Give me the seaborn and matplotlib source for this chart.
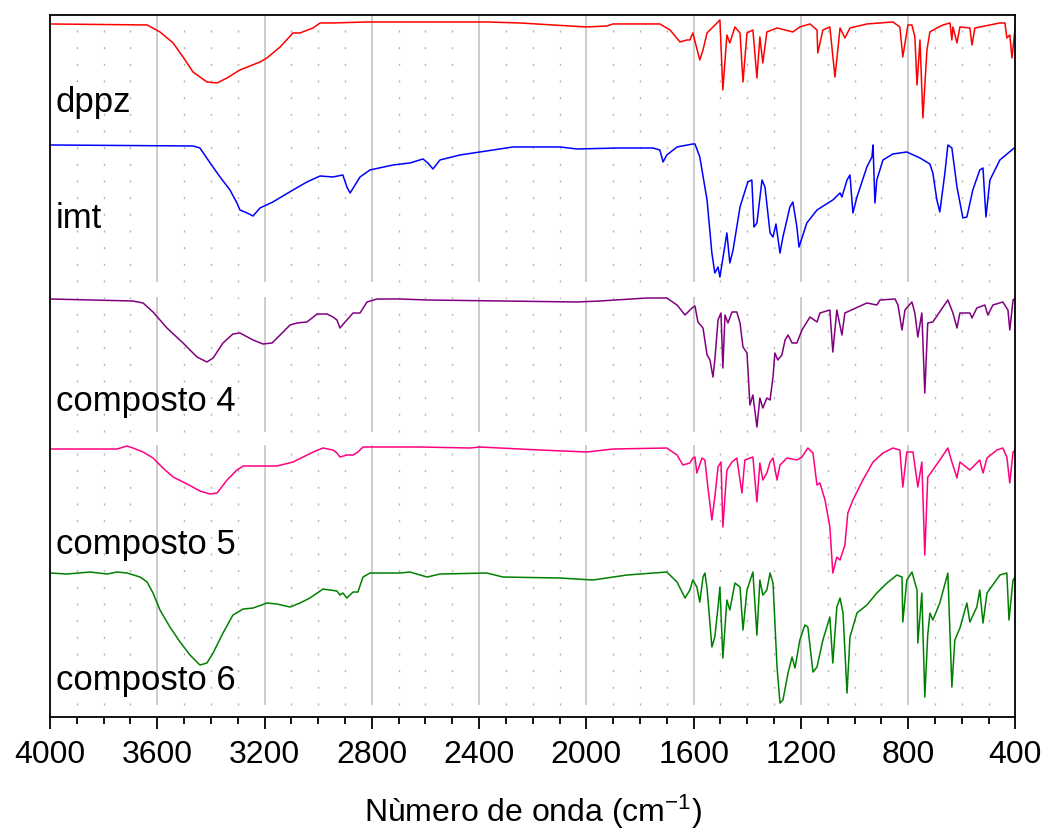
import numpy as np
import pandas as pd
import matplotlib
matplotlib.use("Agg")
import matplotlib.pyplot as plt
import seaborn as sns

# numero de onda (cm-1) e sinal (u.a.)
dppz_wn = [4000, 3638, 3590, 3541, 3504, 3467, 3415, 3377, 3340, 3292, 3217, 3191, 3142, 3094, 3068,
           3019, 2993, 2945, 2818, 2721, 2371, 2248, 2125, 1998, 1923, 1901, 1726, 1688, 1651, 1625,
           1614, 1603, 1577, 1565, 1550, 1509, 1502, 1491, 1476, 1465, 1446, 1427, 1416, 1401, 1379,
           1364, 1353, 1342, 1327, 1289, 1230, 1204, 1166, 1140, 1137, 1118, 1092, 1073, 1054, 1036,
           1017, 954, 857, 831, 820, 801, 786, 775, 767, 756, 745, 730, 719, 693, 670,
           644, 637, 633, 618, 607, 570, 562, 551, 458, 439, 432, 421, 413, 400]
dppz_t = [693, 692, 685, 674, 660, 645, 635, 634, 639, 647, 655, 659, 670, 684, 684,
          689, 694, 694, 695, 695, 695, 694, 692, 690, 691, 693, 693, 687, 675, 677,
          677, 684, 657, 667, 684, 695, 697, 627, 682, 674, 690, 684, 635, 684, 687,
          639, 680, 654, 685, 689, 685, 690, 693, 687, 664, 687, 690, 640, 689, 679,
          689, 693, 695, 690, 660, 692, 692, 680, 632, 677, 599, 667, 685, 689, 692,
          694, 677, 690, 674, 690, 689, 672, 689, 694, 694, 679, 682, 659, 692]

imt_wn = [4000, 3467, 3441, 3403, 3366, 3329, 3303, 3292, 3265, 3243, 3217, 3169, 3094, 3042, 2993,
          2945, 2908, 2893, 2881, 2844, 2807, 2721, 2658, 2609, 2591, 2572, 2546, 2471, 2397, 2274,
          2098, 2035, 1875, 1752, 1726, 1714, 1700, 1662, 1603, 1595, 1577, 1550, 1532, 1521, 1509,
          1502, 1476, 1465, 1453, 1427, 1398, 1383, 1375, 1364, 1345, 1334, 1315, 1304, 1293, 1278,
          1267, 1241, 1230, 1215, 1207, 1178, 1140, 1081, 1054, 1047, 1028, 1017, 1006, 991, 954,
          935, 931, 924, 917, 894, 857, 805, 756, 719, 708, 693, 682, 663, 652, 637,
          618, 596, 581, 559, 533, 521, 510, 495, 458, 400]
imt_t = [572, 571, 569, 554, 540, 527, 514, 507, 504, 501, 509, 515, 527, 535, 541,
         540, 542, 530, 524, 540, 547, 552, 554, 558, 554, 548, 557, 562, 565, 570,
         570, 568, 569, 569, 567, 555, 562, 570, 573, 573, 560, 517, 464, 444, 450,
         440, 484, 454, 467, 510, 535, 537, 490, 494, 537, 530, 484, 480, 493, 464,
         480, 510, 515, 490, 470, 494, 507, 517, 524, 520, 537, 542, 504, 520, 550,
         560, 572, 514, 537, 557, 563, 565, 559, 553, 544, 517, 505, 544, 572, 569,
         530, 499, 500, 527, 547, 549, 500, 537, 557, 570]

c4_wn = [4000, 3691, 3653, 3616, 3564, 3504, 3452, 3415, 3392, 3355, 3318, 3292, 3243, 3206, 3172,
         3142, 3105, 3079, 3042, 3004, 2967, 2945, 2930, 2919, 2893, 2870, 2844, 2818, 2781, 2695,
         2594, 2035, 1949, 1774, 1700, 1662, 1632, 1606, 1595, 1584, 1565, 1550, 1539, 1528, 1521,
         1509, 1498, 1491, 1483, 1472, 1457, 1439, 1427, 1416, 1401, 1390, 1379, 1364, 1353, 1342,
         1327, 1315, 1304, 1297, 1286, 1271, 1259, 1248, 1233, 1215, 1196, 1166, 1140, 1129, 1092,
         1081, 1066, 1047, 1036, 954, 917, 905, 849, 838, 823, 812, 786, 775, 764, 749,
         738, 727, 708, 670, 652, 633, 618, 607, 570, 562, 544, 514, 503, 484, 447,
         428, 421, 409, 400]
c4_t = [418, 416, 414, 405, 389, 374, 360, 355, 359, 374, 383, 384, 377, 373, 374,
        382, 392, 394, 395, 403, 403, 400, 397, 389, 397, 404, 404, 415, 418, 418,
        417, 415, 416, 419, 419, 412, 402, 409, 411, 395, 389, 362, 357, 340, 357,
        397, 404, 349, 402, 394, 405, 405, 394, 370, 364, 312, 322, 290, 319, 309,
        319, 317, 340, 364, 357, 362, 377, 382, 374, 374, 387, 400, 395, 404, 407,
        365, 407, 382, 404, 414, 412, 417, 418, 412, 387, 407, 415, 404, 380, 404,
        324, 394, 395, 410, 417, 404, 389, 404, 404, 399, 409, 412, 402, 412, 415,
        407, 387, 417, 419]

c5_wn = [4000, 3750, 3713, 3691, 3653, 3616, 3579, 3541, 3489, 3441, 3403, 3377, 3340, 3303, 3280,
         3154, 3094, 3019, 2982, 2945, 2930, 2919, 2893, 2870, 2852, 2833, 2796, 2695, 2620, 2434,
         2397, 2173, 1998, 1901, 1700, 1662, 1640, 1614, 1603, 1595, 1588, 1569, 1558, 1547, 1532,
         1521, 1509, 1498, 1491, 1476, 1457, 1439, 1420, 1409, 1379, 1364, 1353, 1342, 1327, 1315,
         1304, 1289, 1278, 1252, 1215, 1196, 1174, 1155, 1140, 1129, 1110, 1092, 1081, 1066, 1054,
         1036, 1025, 1006, 969, 931, 894, 857, 831, 820, 805, 782, 764, 749, 738, 727,
         708, 682, 652, 637, 618, 607, 570, 533, 521, 506, 469, 447, 432, 421, 409,
         400]
c5_t = [268, 268, 271, 269, 265, 259, 249, 240, 233, 226, 223, 224, 237, 247, 251,
        251, 255, 265, 269, 267, 264, 260, 262, 262, 265, 270, 270, 270, 270, 269,
        270, 267, 265, 268, 269, 262, 252, 254, 259, 260, 244, 259, 257, 230, 197,
        220, 250, 255, 190, 247, 255, 259, 224, 257, 260, 215, 254, 237, 244, 255,
        259, 237, 252, 259, 257, 260, 269, 264, 232, 234, 217, 190, 144, 160, 157,
        172, 204, 217, 237, 255, 264, 269, 267, 230, 265, 265, 230, 255, 162, 240,
        247, 257, 269, 255, 239, 255, 247, 257, 244, 259, 267, 269, 260, 234, 265,
        267]

c6_wn = [4000, 3937, 3851, 3787, 3750, 3713, 3664, 3638, 3616, 3590, 3553, 3515, 3478, 3441, 3415,
         3392, 3355, 3318, 3280, 3243, 3191, 3154, 3105, 3068, 3031, 2982, 2930, 2919, 2908, 2893,
         2870, 2852, 2833, 2807, 2695, 2658, 2594, 2546, 2371, 2311, 2098, 1976, 1849, 1700, 1662,
         1632, 1614, 1603, 1588, 1577, 1565, 1558, 1550, 1532, 1521, 1509, 1502, 1491, 1476, 1465,
         1446, 1427, 1416, 1401, 1379, 1364, 1353, 1342, 1327, 1315, 1304, 1289, 1278, 1267, 1248,
         1233, 1222, 1204, 1185, 1174, 1155, 1140, 1118, 1092, 1081, 1066, 1054, 1043, 1028, 1017,
         991, 954, 917, 879, 842, 823, 820, 805, 786, 767, 764, 749, 738, 727, 719,
         708, 682, 652, 637, 626, 607, 581, 570, 544, 533, 521, 506, 458, 432, 424,
         409, 400]
c6_t = [144, 143, 145, 143, 145, 144, 140, 135, 124, 107, 90, 75, 62, 52, 54,
        64, 84, 102, 108, 109, 114, 113, 110, 114, 119, 128, 126, 122, 124, 119,
        125, 125, 140, 144, 144, 145, 140, 143, 144, 140, 139, 137, 142, 145, 135,
        119, 127, 137, 130, 115, 140, 144, 129, 70, 80, 110, 130, 59, 117, 107,
        134, 130, 87, 127, 145, 82, 137, 122, 127, 144, 134, 50, 14, 17, 44,
        60, 49, 77, 92, 90, 45, 50, 77, 100, 54, 110, 119, 104, 24, 80,
        104, 112, 124, 134, 142, 140, 95, 137, 145, 127, 74, 124, 20, 82, 104,
        97, 114, 144, 30, 77, 89, 114, 95, 110, 127, 94, 124, 142, 144, 97,
        137, 140]

nomes = ["dppz", "imt", "composto 4", "composto 5", "composto 6"]
cores = ["#ff0000", "#0000ff", "#800080", "#ff0080", "#008000"]
rotulo_y = [0.862, 0.697, 0.436, 0.232, 0.0385]

sns.set_theme(style="white")
plt.rcParams["font.family"] = ["Liberation Sans", "DejaVu Sans"]
plt.rcParams["mathtext.fontset"] = "custom"
plt.rcParams["mathtext.rm"] = "Liberation Sans"
plt.rcParams["mathtext.default"] = "regular"
plt.rcParams["text.color"] = "black"
plt.rcParams["axes.labelcolor"] = "black"
plt.rcParams["xtick.color"] = "black"
plt.rcParams["xtick.labelcolor"] = "black"

series = [(dppz_wn, dppz_t), (imt_wn, imt_t), (c4_wn, c4_t), (c5_wn, c5_t), (c6_wn, c6_t)]
df = pd.concat([pd.DataFrame({"wn": w, "sinal": t, "amostra": n})
                for (w, t), n in zip(series, nomes)], ignore_index=True)

fig = plt.figure(figsize=(10.49, 8.36), dpi=100)
ax = fig.add_axes([0.0477, 0.1423, 0.9203, 0.8398])

# grades verticais (interrompidas entre os blocos como no original)
trechos = [(0.6197, 1.0), (0.406, 0.598), (0.017, 0.387)]
menores = [v for v in range(500, 4000, 100) if v % 400 != 0]
for y0, y1 in trechos:
    ax.vlines(np.arange(800, 3601, 400), y0, y1, transform=ax.get_xaxis_transform(),
              colors="#c8c8c8", linewidth=1.3, zorder=0)
    ax.vlines(menores, y0, y1, transform=ax.get_xaxis_transform(),
              colors="#b4b4b4", linewidth=1.0, linestyles=(0, (1.5, 10.5)), zorder=0)

sns.lineplot(data=df, x="wn", y="sinal", hue="amostra", palette=dict(zip(nomes, cores)),
             hue_order=nomes, estimator=None, sort=False, linewidth=1.1, legend=False, ax=ax)

for n, yy in zip(nomes, rotulo_y):
    ax.text(0.006, yy, n, transform=ax.transAxes, fontsize=25, va="baseline", ha="left",
            color="black")

ax.set_xlim(4000, 400)
ax.set_ylim(0, 702)
ax.set_xticks(np.arange(4000, 399, -400))
ax.set_xticks(np.arange(4000, 399, -100), minor=True)
ax.set_yticks([])
ax.set_ylabel("")
ax.set_xlabel("Nùmero de onda (cm$^{-1}$)", fontsize=23, labelpad=16, color="black")
ax.tick_params(axis="x", which="major", direction="out", length=8.6, width=1.3,
               labelsize=23, pad=8, bottom=True, color="black", labelcolor="black")
ax.tick_params(axis="x", which="minor", direction="out", length=5, width=1.3,
               bottom=True, color="black")
for s in ax.spines.values():
    s.set_color("black")
    s.set_linewidth(1.3)
ax.grid(False)

fig.savefig("out.png", dpi=100)
